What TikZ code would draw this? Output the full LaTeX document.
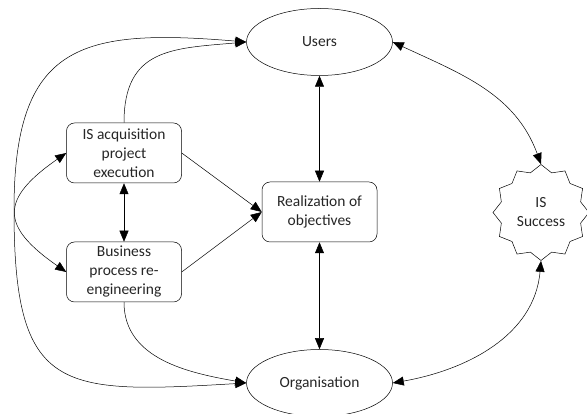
\documentclass[tikz,border=0pt]{standalone}
\usepackage{fontspec}
\setmainfont{Carlito}
\usetikzlibrary{arrows.meta,shapes.geometric}

\tikzset{
    every node/.style={font=\fontsize{15.5}{19}\selectfont, text=black!85, align=center},
    box/.style={draw, rounded corners=8pt, minimum width=115pt, minimum height=60pt, inner sep=2pt},
    oval/.style={draw, ellipse, minimum width=146pt, minimum height=67pt},
    seal/.style={draw, star, star points=12, star point ratio=1.17, minimum size=96pt, inner sep=0pt},
}

\begin{document}
\begin{tikzpicture}[x=1pt, y=1pt, line width=0.5pt, >={Triangle[length=11pt,width=9pt]}]
    \useasboundingbox (0,0) rectangle (587,414);
    %Nodes
    \node[oval] (users) at (319.5,372) {Users};
    \node[oval] (org) at (319.5,31) {Organisation};
    \node[box] (acq) at (124,261) {IS acquisition\\project\\execution};
    \node[box] (bpr) at (124,142) {Business\\process re-\\engineering};
    \node[box] (real) at (319.5,202) {Realization of\\objectives};
    \node[seal] (succ) at (541,201.5) {IS\\Success};
    %Straight links
    \draw[<->] (users.south) -- (real.north);
    \draw[<->] (real.south) -- (org.north);
    \draw[<->] (acq.south) -- (bpr.north);
    \draw[->] (acq.east) -- (real.west);
    \draw[->] (bpr.east) -- (real.west);
    %Curved links
    \draw[<->] (users.east) to[out=-25, in=110] (succ.north);
    \draw[<->] (org.east) to[out=10, in=-95] (succ.south);
    \draw[->] (acq.north) to[out=90, in=185, looseness=1.3] (users.west);
    \draw[->] (bpr.south) to[out=-90, in=170] (org.west);
    \draw[<->] (acq.west) .. controls (0,215) and (0,188) .. (bpr.west);
    \draw[<->] (users.west) .. controls (80,386) and (14,370) .. (14,204)
        .. controls (14,20) and (60,20) .. (org.west);
\end{tikzpicture}
\end{document}
